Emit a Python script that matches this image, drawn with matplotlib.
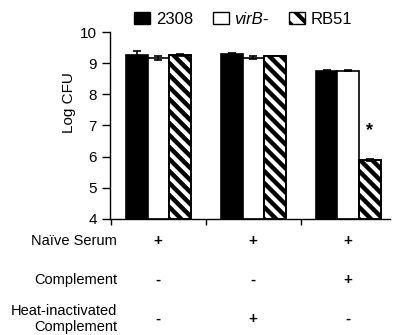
import matplotlib
matplotlib.use("Agg")
import matplotlib.pyplot as plt
import numpy as np
from matplotlib.patches import Rectangle
from matplotlib.lines import Line2D
from matplotlib.transforms import IdentityTransform

plt.rcParams['font.family'] = ['Liberation Sans', 'DejaVu Sans']
plt.rcParams['hatch.linewidth'] = 3.0

series = ['2308', 'virB-', 'RB51']
values_2308 = [9.27, 9.31, 8.74]
values_virb = [9.17, 9.18, 8.76]
values_rb51 = [9.25, 9.23, 5.89]
err_2308 = [0.12, 0.02, 0.04]
err_virb = [0.07, 0.04, 0.01]
err_rb51 = [0.03, 0.01, 0.03]
row_labels = ['Naïve Serum', 'Complement', 'Heat-inactivated\nComplement']
row_signs = [['+', '+', '+'], ['-', '-', '+'], ['-', '+', '-']]
yticks = [4, 5, 6, 7, 8, 9, 10]

fig = plt.figure(figsize=(3.94, 3.35), dpi=100)
W, H = 394, 335
ax = fig.add_axes([110 / W, 1 - 219 / H, 280 / W, 187 / H])

x = np.arange(3)
w = 0.228
base = 4
specs = [
    (values_2308, err_2308, dict(color='black', edgecolor='black')),
    (values_virb, err_virb, dict(color='white', edgecolor='black')),
    (values_rb51, err_rb51, dict(color='white', edgecolor='black')),
]
containers = []
for i, (vals, errs, st) in enumerate(specs):
    pos = x + (i - 1) * w
    bc = ax.bar(pos, np.array(vals) - base, w, bottom=base, linewidth=1.2,
                zorder=2, **st)
    containers.append(bc)
    ax.errorbar(pos, vals, yerr=errs, fmt='none', ecolor='black',
                elinewidth=1.2, capsize=3, capthick=1.2, zorder=4)

ax.text(x[2] + w, 6.85, '*', ha='center', va='center', fontsize=13,
        fontweight='bold')

ax.set_ylim(4, 10)
ax.set_xlim(-0.51, 2.44)
ax.set_yticks(yticks)
ax.set_xticks([-0.5, 0.5, 1.5])
ax.set_xticklabels([])
ax.tick_params(axis='y', direction='out', length=5.5, width=1, labelsize=11, pad=4)
ax.tick_params(axis='x', direction='out', length=4, width=1)
for s in ['top', 'right']:
    ax.spines[s].set_visible(False)
for s in ['left', 'bottom']:
    ax.spines[s].set_linewidth(1)
ax.set_ylabel('Log CFU', fontsize=11)
ax.yaxis.set_label_coords(-0.122, 0.62)

# custom wide diagonal hatching for RB51 bars
fig.canvas.draw()
spacing = 12.0
for patch in containers[2].patches:
    bb = patch.get_window_extent()
    x0, y0, x1, y1 = bb.x0, bb.y0, bb.x1, bb.y1
    c = x0 + y0 - spacing
    while c < x1 + y1 + spacing:
        ln = Line2D([x0 - 5, x1 + 5], [c - (x0 - 5), c - (x1 + 5)],
                    transform=IdentityTransform(), color='black', lw=3.2,
                    solid_capstyle='butt', zorder=3)
        ln.set_clip_path(patch)
        fig.add_artist(ln)
        c += spacing
    edge = Rectangle((x0, y0), x1 - x0, y1 - y0, transform=IdentityTransform(),
                     fill=False, edgecolor='black', lw=1.2, zorder=3.5)
    fig.add_artist(edge)

# legend
handles = [Rectangle((0, 0), 1, 1, facecolor='black', edgecolor='black'),
           Rectangle((0, 0), 1, 1, facecolor='white', edgecolor='black'),
           Rectangle((0, 0), 1, 1, facecolor='white', edgecolor='black', hatch='\\\\')]
leg = fig.legend(handles, series, loc='center', bbox_to_anchor=(243 / W, 1 - 19 / H),
                 ncol=3, frameon=False, fontsize=12, handlelength=0.95, handleheight=0.72,
                 handletextpad=0.35, columnspacing=1.2, borderpad=0.2)
leg.get_texts()[1].set_style('italic')

# condition table
row_y = [241, 280, 319]
col_x = [158, 253, 348]
for lab, signs, yy in zip(row_labels, row_signs, row_y):
    fig.text(117 / W, 1 - yy / H, lab, ha='right', va='center', fontsize=10.5,
             linespacing=1.15)
    for s, xx in zip(signs, col_x):
        fig.text(xx / W, 1 - yy / H, s, ha='center', va='center', fontsize=11,
                 fontweight='bold')

fig.savefig('out.png', dpi=100)
